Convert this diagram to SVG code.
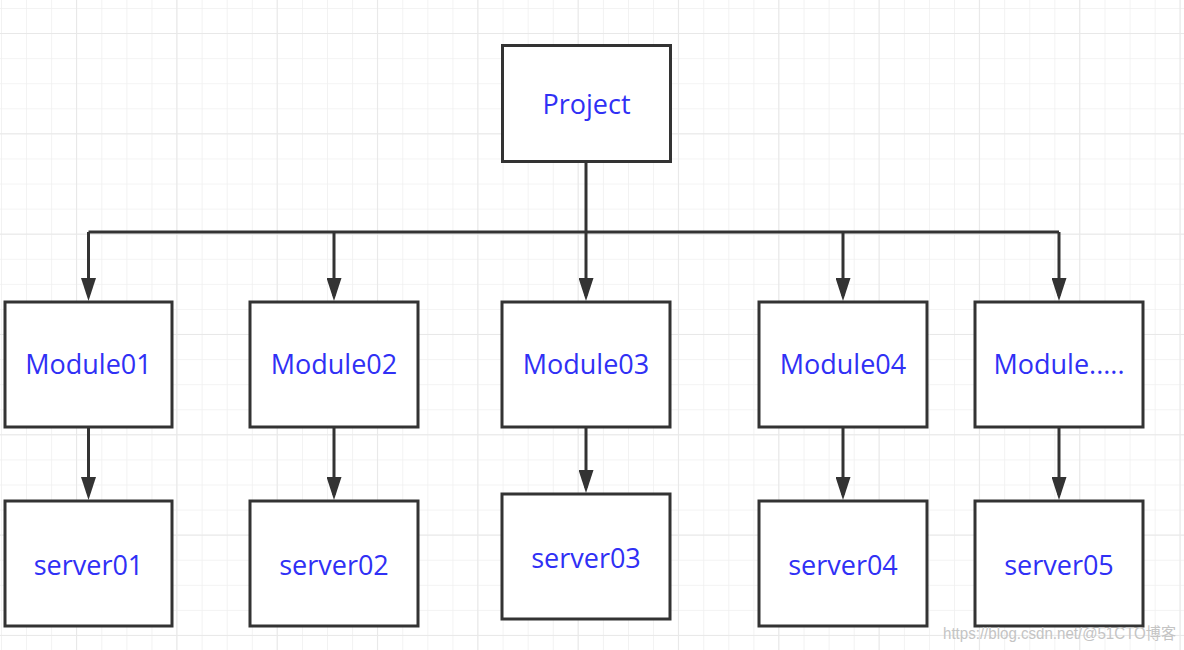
<svg xmlns="http://www.w3.org/2000/svg" width="1184" height="650" viewBox="0 0 1184 650">
  <style>
    .box { fill: #ffffff; stroke: #333333; stroke-width: 3; }
    .lbl { font-family: "Open Sans", "Noto Sans", sans-serif; font-size: 27px; fill: #3030f5; text-anchor: middle; }
    .wire { fill: none; stroke: #333333; stroke-width: 3; }
    .wm { font-family: "Liberation Sans", "Noto Sans CJK SC", sans-serif; font-size: 16px; fill: #c4c4c4; }
  </style>
  <defs>
    <pattern id="gridS" patternUnits="userSpaceOnUse" x="1" y="8" width="25.08" height="25.08">
      <path d="M0 0 V25.08 M0 0 H25.08" fill="none" stroke="#f0f0f0" stroke-width="1.6"/>
    </pattern>
    <pattern id="gridL" patternUnits="userSpaceOnUse" x="76" y="33" width="100.32" height="100.32">
      <path d="M0 0 V100.32 M0 0 H100.32" fill="none" stroke="#e8e8e8" stroke-width="2"/>
    </pattern>
    <marker id="arr" markerUnits="userSpaceOnUse" viewBox="0 0 23 15" refX="18" refY="7.5" markerWidth="23" markerHeight="15" orient="auto">
      <path d="M0 0 L23 7.5 L0 15 Z" fill="#333333"/>
    </marker>
  </defs>
  <rect width="1184" height="650" fill="#ffffff"/>
  <rect width="1184" height="650" fill="url(#gridS)"/>
  <rect width="1184" height="650" fill="url(#gridL)"/>

  <g id="connectors">
    <path class="wire" d="M586 162 V232"/>
    <path class="wire" d="M88.5 232 H1059"/>
    <path class="wire" d="M88.5 232 V296" marker-end="url(#arr)"/>
    <path class="wire" d="M334 232 V296" marker-end="url(#arr)"/>
    <path class="wire" d="M586 232 V296" marker-end="url(#arr)"/>
    <path class="wire" d="M843 232 V296" marker-end="url(#arr)"/>
    <path class="wire" d="M1059 232 V296" marker-end="url(#arr)"/>
    <path class="wire" d="M88.5 427 V495" marker-end="url(#arr)"/>
    <path class="wire" d="M334 427 V495" marker-end="url(#arr)"/>
    <path class="wire" d="M586 427 V488" marker-end="url(#arr)"/>
    <path class="wire" d="M843 427 V495" marker-end="url(#arr)"/>
    <path class="wire" d="M1059 427 V495" marker-end="url(#arr)"/>
  </g>

  <g id="project"><rect class="box" x="502.5" y="45.5" width="168" height="116"/><text class="lbl" x="586.5" y="113.5">Project</text></g>

  <g id="module01"><rect class="box" x="5" y="302" width="167" height="125"/><text class="lbl" x="88.5" y="374">Module01</text></g>
  <g id="module02"><rect class="box" x="250" y="302" width="168" height="125"/><text class="lbl" x="334" y="374">Module02</text></g>
  <g id="module03"><rect class="box" x="502" y="302" width="168" height="125"/><text class="lbl" x="586" y="374">Module03</text></g>
  <g id="module04"><rect class="box" x="759" y="302" width="168" height="125"/><text class="lbl" x="843" y="374">Module04</text></g>
  <g id="module05"><rect class="box" x="975" y="302" width="168" height="125"/><text class="lbl" x="1059" y="374">Module.....</text></g>

  <g id="server01"><rect class="box" x="5" y="501" width="167" height="125"/><text class="lbl" x="88.5" y="575">server01</text></g>
  <g id="server02"><rect class="box" x="250" y="501" width="168" height="125"/><text class="lbl" x="334" y="575">server02</text></g>
  <g id="server03"><rect class="box" x="502" y="494" width="168" height="125"/><text class="lbl" x="586" y="568">server03</text></g>
  <g id="server04"><rect class="box" x="759" y="501" width="168" height="125"/><text class="lbl" x="843" y="575">server04</text></g>
  <g id="server05"><rect class="box" x="975" y="501" width="168" height="125"/><text class="lbl" x="1059" y="575">server05</text></g>

  <text class="wm" x="943" y="639" textLength="233" lengthAdjust="spacingAndGlyphs">https://blog.csdn.net/@51CTO博客</text>
</svg>
